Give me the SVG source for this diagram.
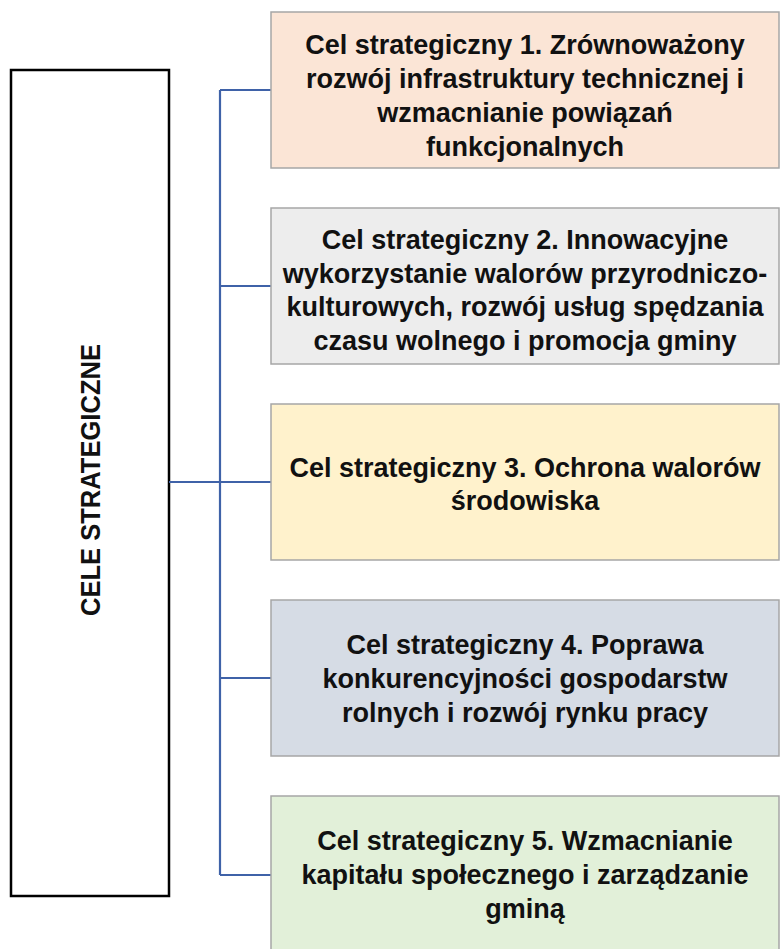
<svg xmlns="http://www.w3.org/2000/svg" width="780" height="949" viewBox="0 0 780 949">
<style>
.box{stroke:#A6A6A6;stroke-width:1.5}
.t{font-family:"Liberation Sans",Arial,sans-serif;font-weight:bold;font-size:27px;fill:#111;text-anchor:middle}
.c{stroke:#3F62A8;stroke-width:2.2;fill:none}
</style>
<rect width="780" height="949" fill="#fff"/>
<g id="root">
<rect x="11" y="70" width="158" height="826" fill="#fff" stroke="#000" stroke-width="2.5"/>
<text class="t" transform="translate(100,480) rotate(-90)" x="0" y="0" font-size="27" textLength="272" lengthAdjust="spacingAndGlyphs">CELE STRATEGICZNE</text>
</g>
<g id="connectors">
<path class="c" d="M169 482H220M220 90V875M220 90H271M220 286H271M220 482H271M220 678H271M220 875H271"/>
</g>
<g id="cel1">
<rect class="box" x="271" y="12" width="508" height="156" fill="#FBE5D6"/>
<text class="t" x="525" y="54">Cel strategiczny 1. Zrównoważony</text>
<text class="t" x="525" y="88">rozwój infrastruktury technicznej i</text>
<text class="t" x="525" y="122">wzmacnianie powiązań</text>
<text class="t" x="525" y="156">funkcjonalnych</text>
</g>
<g id="cel2">
<rect class="box" x="271" y="208" width="508" height="156" fill="#EDEDED"/>
<text class="t" x="525" y="249">Cel strategiczny 2. Innowacyjne</text>
<text class="t" x="525" y="283">wykorzystanie walorów przyrodniczo-</text>
<text class="t" x="525" y="316">kulturowych, rozwój usług spędzania</text>
<text class="t" x="525" y="350">czasu wolnego i promocja gminy</text>
</g>
<g id="cel3">
<rect class="box" x="271" y="404" width="508" height="156" fill="#FFF2CC"/>
<text class="t" x="525" y="477">Cel strategiczny 3. Ochrona walorów</text>
<text class="t" x="525" y="510">środowiska</text>
</g>
<g id="cel4">
<rect class="box" x="271" y="600" width="508" height="156" fill="#D6DCE5"/>
<text class="t" x="525" y="654">Cel strategiczny 4. Poprawa</text>
<text class="t" x="525" y="688">konkurencyjności gospodarstw</text>
<text class="t" x="525" y="722">rolnych i rozwój rynku pracy</text>
</g>
<g id="cel5">
<rect class="box" x="271" y="796" width="508" height="156" fill="#E2F0D9"/>
<text class="t" x="525" y="850">Cel strategiczny 5. Wzmacnianie</text>
<text class="t" x="525" y="884">kapitału społecznego i zarządzanie</text>
<text class="t" x="525" y="918">gminą</text>
</g>
</svg>
